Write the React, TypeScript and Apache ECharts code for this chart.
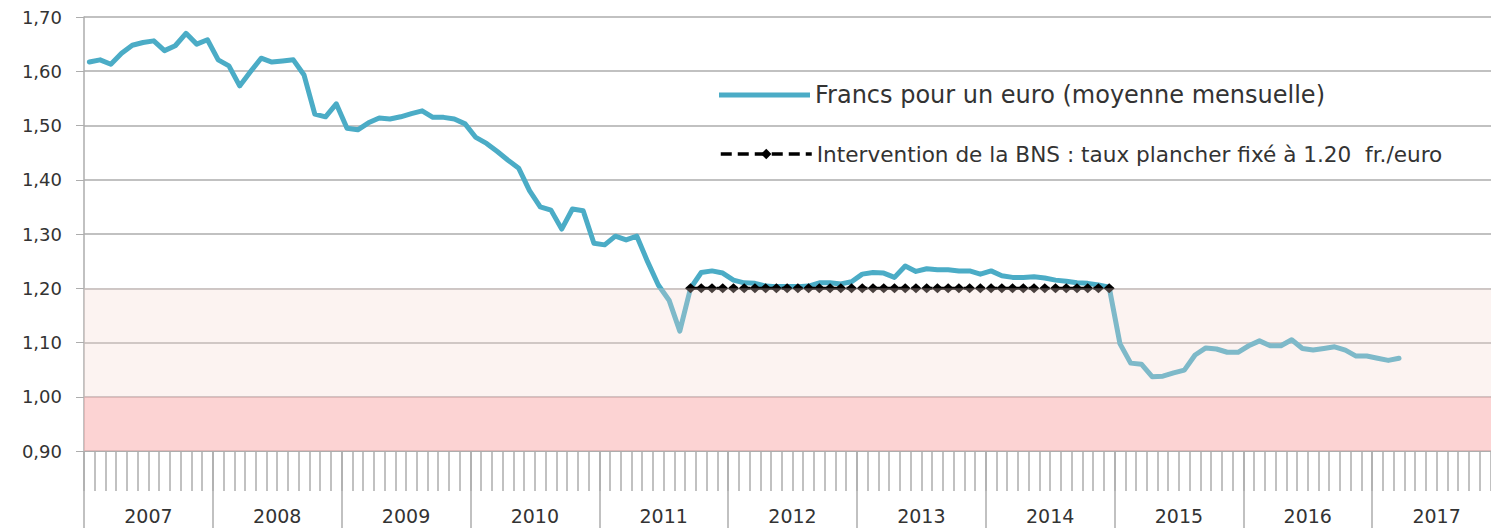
import React, { useEffect, useRef } from "react";
import * as echarts from "echarts";

// ---- Data ----
const years = ["2007", "2008", "2009", "2010", "2011", "2012", "2013", "2014", "2015", "2016", "2017"];

const rates2007 = [1.617, 1.621, 1.613, 1.633, 1.648, 1.653, 1.656, 1.638, 1.647, 1.670, 1.650, 1.658];
const rates2008 = [1.621, 1.610, 1.573, 1.599, 1.624, 1.617, 1.619, 1.621, 1.593, 1.521, 1.516, 1.540];
const rates2009 = [1.495, 1.492, 1.505, 1.514, 1.512, 1.516, 1.522, 1.527, 1.515, 1.515, 1.512, 1.503];
const rates2010 = [1.478, 1.467, 1.452, 1.436, 1.421, 1.380, 1.350, 1.344, 1.309, 1.346, 1.343, 1.283];
const rates2011 = [1.280, 1.296, 1.289, 1.296, 1.249, 1.206, 1.178, 1.121, 1.200, 1.229, 1.232, 1.228];
const rates2012 = [1.215, 1.210, 1.209, 1.204, 1.203, 1.203, 1.203, 1.204, 1.210, 1.210, 1.208, 1.212];
const rates2013 = [1.226, 1.229, 1.228, 1.220, 1.241, 1.231, 1.236, 1.234, 1.234, 1.232, 1.232, 1.226];
const rates2014 = [1.232, 1.223, 1.220, 1.220, 1.221, 1.219, 1.215, 1.213, 1.210, 1.209, 1.206, 1.202];
const rates2015 = [1.098, 1.062, 1.060, 1.037, 1.038, 1.044, 1.049, 1.077, 1.090, 1.088, 1.082, 1.082];
const rates2016 = [1.094, 1.103, 1.094, 1.094, 1.105, 1.089, 1.086, 1.089, 1.092, 1.086, 1.075, 1.075];
const rates2017 = [1.071, 1.067, 1.071];

const floorRate = 1.2;
const floorStart = "2011-09";
const floorEnd = "2014-12";

const yTicks = { min: 0.9, max: 1.7, step: 0.1 };
const bandLight = [1.0, 1.2];
const bandDark = [0.9, 1.0];

const seriesRateName = "Francs pour un euro (moyenne mensuelle)";
const seriesFloorName = "Intervention de la BNS : taux plancher fixé à 1.20  fr./euro";

// derived
const months = years.flatMap((y) =>
  Array.from({ length: 12 }, (_, m) => `${y}-${String(m + 1).padStart(2, "0")}`)
);
const rates = [
  ...rates2007, ...rates2008, ...rates2009, ...rates2010, ...rates2011, ...rates2012,
  ...rates2013, ...rates2014, ...rates2015, ...rates2016, ...rates2017,
];
const iStart = months.indexOf(floorStart);
const iEnd = months.indexOf(floorEnd);
const floorData = months.map((_, i) => (i >= iStart && i <= iEnd ? floorRate : null));

const FONT = "DejaVu Sans";
const GRID_GRAY = "#adadad";
const TEXT = "#333333";
const BLUE = "#4bacc6";

export default function App() {
  const ref = useRef<HTMLDivElement>(null);

  useEffect(() => {
    if (!ref.current) return;
    const chart = echarts.init(ref.current, null, { renderer: "svg" });
    chart.setOption({
      animation: false,
      backgroundColor: "#ffffff",
      grid: { left: 84, right: 1, top: 17, bottom: 77, containLabel: false },
      legend: [
        {
          data: [{ name: seriesRateName, icon: "rect", itemStyle: { color: BLUE } }],
          left: 719,
          top: 82,
          padding: 0,
          itemWidth: 91,
          itemHeight: 5,
          selectedMode: false,
          textStyle: { fontFamily: FONT, fontSize: 24, lineHeight: 26, color: TEXT },
        },
        {
          data: [seriesFloorName],
          left: 719,
          top: 142,
          padding: 0,
          itemWidth: 91,
          itemHeight: 13,
          selectedMode: false,
          lineStyle: { width: 3.5, type: [11, 6], color: "#000000" },
          textStyle: { fontFamily: FONT, fontSize: 21.6, lineHeight: 24, color: TEXT },
        },
      ],
      xAxis: [
        {
          type: "category",
          data: months,
          boundaryGap: true,
          position: "bottom",
          axisLine: { show: true, lineStyle: { color: GRID_GRAY, width: 1 } },
          axisTick: { show: true, interval: 0, length: 40, lineStyle: { color: GRID_GRAY, width: 1.5 } },
          axisLabel: { show: false },
          splitLine: { show: false },
        },
        {
          type: "category",
          data: years,
          boundaryGap: true,
          position: "bottom",
          axisLine: { show: false },
          axisTick: { show: true, interval: 0, length: 80, lineStyle: { color: GRID_GRAY, width: 1.5 } },
          axisLabel: {
            show: true,
            interval: 0,
            margin: 55,
            fontFamily: FONT,
            fontSize: 19,
            color: TEXT,
          },
          splitLine: { show: false },
        },
      ],
      yAxis: {
        type: "value",
        min: yTicks.min,
        max: yTicks.max,
        interval: yTicks.step,
        axisLine: { show: true, lineStyle: { color: GRID_GRAY, width: 1.5 } },
        axisTick: { show: true, inside: false, length: 8, lineStyle: { color: GRID_GRAY } },
        axisLabel: {
          margin: 22,
          fontFamily: FONT,
          fontSize: 18,
          color: TEXT,
          formatter: (v: number) => v.toFixed(2).replace(".", ","),
        },
        splitLine: { show: true, lineStyle: { color: GRID_GRAY, width: 1.5 } },
      },
      series: [
        {
          name: seriesRateName,
          type: "line",
          xAxisIndex: 0,
          data: rates,
          symbol: "none",
          z: 2,
          lineStyle: { color: BLUE, width: 5, cap: "round", join: "round" },
          itemStyle: { color: BLUE },
        },
        {
          name: seriesFloorName,
          type: "line",
          xAxisIndex: 0,
          data: floorData,
          symbol: "diamond",
          symbolSize: [11, 10],
          showSymbol: true,
          showAllSymbol: true,
          z: 3,
          lineStyle: { color: "#000000", width: 3, type: [8, 5] },
          itemStyle: { color: "#000000" },
        },
        {
          name: "bands",
          type: "line",
          xAxisIndex: 0,
          data: [],
          silent: true,
          z: 6,
          markArea: {
            silent: true,
            z: 10,
            data: [
              [
                { yAxis: bandLight[0], itemStyle: { color: "rgba(245,215,210,0.3)" } },
                { yAxis: bandLight[1] },
              ],
              [
                { yAxis: bandDark[0], itemStyle: { color: "rgba(250,175,175,0.55)" } },
                { yAxis: bandDark[1] },
              ],
            ],
          },
        },
      ],
    });
    return () => chart.dispose();
  }, []);

  return (
    <div style={{ position: "fixed", left: 0, top: 0, width: 1491, height: 528, overflow: "hidden", background: "#fff" }}>
      <div ref={ref} style={{ position: "absolute", left: 0, top: 0, width: 1502, height: 528 }} />
    </div>
  );
}
